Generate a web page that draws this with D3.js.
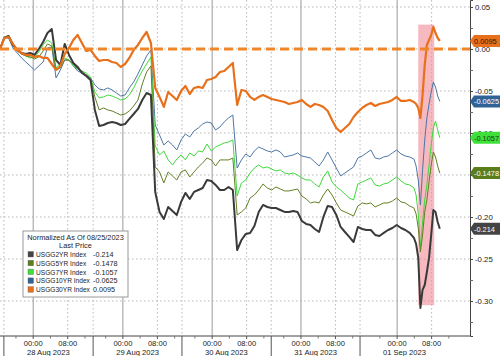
<!DOCTYPE html>
<html><head><meta charset="utf-8">
<script src="https://cdn.jsdelivr.net/npm/d3@7"></script>
<style>
html,body{margin:0;padding:0;background:#fff;}
svg{display:block;font-family:"Liberation Sans",Arial,sans-serif;}
</style></head>
<body><svg id="c" width="500" height="356"></svg>
<script>
// ---- data ----
// session hours (x) shared by all series
const hours = d3.range(0, 96).concat([96, 96.5, 97, 97.5, 98, 98.5, 99, 99.5, 100, 100.5, 101, 101.5, 102]);

const usgg2 = [0,0.0131,0.0155,0.0048,-0.0012,-0.0048,-0.0060,-0.0048,-0.0071,0,
0.0083,0.0190,0.0238,-0.0131,-0.0190,0.0060,-0.0071,-0.0167,-0.0214,-0.0286,
-0.0321,-0.0369,-0.0726,-0.0917,-0.0905,-0.0881,-0.0869,-0.0881,-0.0905,-0.0893,
-0.0833,-0.0774,-0.0714,-0.0607,-0.0524,-0.0548,-0.1702,-0.1940,-0.2024,-0.1881,
-0.1929,-0.1976,-0.1821,-0.1714,-0.1786,-0.1702,-0.1679,-0.1655,-0.1560,-0.1571,
-0.1619,-0.1679,-0.1679,-0.1643,-0.1679,-0.2393,-0.2274,-0.2202,-0.2190,-0.2107,
-0.1940,-0.1857,-0.1881,-0.1893,-0.1893,-0.1917,-0.1940,-0.1940,-0.1929,-0.1940,
-0.2048,-0.2083,-0.2095,-0.2143,-0.2179,-0.2000,-0.1869,-0.1881,-0.1976,-0.2119,
-0.2179,-0.2238,-0.2298,-0.2119,-0.2143,-0.2155,-0.2155,-0.2214,-0.2226,-0.2190,
-0.2155,-0.2131,-0.2095,-0.2131,-0.2155,-0.2190,
-0.2250,-0.2321,-0.2488,-0.3083,-0.2869,-0.2810,-0.2655,-0.2488,-0.2214,-0.1917,-0.1940,-0.2060,-0.2140];

const usgg5 = [0,0.0131,0.0143,0.0036,-0.0024,-0.0060,-0.0083,-0.0095,-0.0119,-0.0095,
-0.0024,0.0060,0.0036,-0.0250,-0.0226,-0.0131,-0.0131,-0.0179,-0.0238,-0.0262,
-0.0310,-0.0357,-0.0571,-0.0726,-0.0702,-0.0726,-0.0738,-0.0762,-0.0786,-0.0774,
-0.0738,-0.0679,-0.0607,-0.0417,-0.0274,-0.0202,-0.1405,-0.1464,-0.1595,-0.1464,
-0.1512,-0.1560,-0.1464,-0.1440,-0.1524,-0.1464,-0.1405,-0.1357,-0.1298,-0.1321,
-0.1393,-0.1321,-0.1321,-0.1321,-0.1298,-0.1976,-0.1940,-0.1893,-0.1774,-0.1738,
-0.1679,-0.1607,-0.1655,-0.1679,-0.1643,-0.1667,-0.1690,-0.1690,-0.1679,-0.1667,
-0.1750,-0.1786,-0.1833,-0.1821,-0.1833,-0.1738,-0.1667,-0.1738,-0.1833,-0.1917,
-0.1940,-0.1964,-0.1988,-0.1869,-0.1833,-0.1845,-0.1833,-0.1881,-0.1857,-0.1833,
-0.1833,-0.1810,-0.1774,-0.1821,-0.1833,-0.1869,
-0.1893,-0.1964,-0.2131,-0.2417,-0.2214,-0.1940,-0.1798,-0.1583,-0.1381,-0.1226,-0.1286,-0.1393,-0.1478];

const usgg7 = [0,0.0143,0.0155,0.0048,-0.0012,-0.0060,-0.0083,-0.0107,-0.0095,-0.0036,
0.0048,0.0107,0.0071,-0.0226,-0.0167,-0.0107,-0.0131,-0.0202,-0.0238,-0.0262,
-0.0286,-0.0333,-0.0512,-0.0583,-0.0571,-0.0548,-0.0560,-0.0583,-0.0607,-0.0595,
-0.0548,-0.0464,-0.0357,-0.0262,-0.0179,-0.0095,-0.1155,-0.1262,-0.1214,-0.1321,
-0.1381,-0.1310,-0.1262,-0.1321,-0.1238,-0.1274,-0.1214,-0.1226,-0.1131,-0.1214,
-0.1167,-0.1143,-0.1119,-0.1107,-0.1083,-0.1750,-0.1595,-0.1560,-0.1476,-0.1417,
-0.1381,-0.1417,-0.1405,-0.1429,-0.1452,-0.1440,-0.1476,-0.1488,-0.1476,-0.1500,
-0.1536,-0.1560,-0.1560,-0.1607,-0.1643,-0.1524,-0.1452,-0.1583,-0.1643,-0.1679,
-0.1726,-0.1774,-0.1798,-0.1607,-0.1583,-0.1560,-0.1536,-0.1619,-0.1631,-0.1607,
-0.1595,-0.1560,-0.1524,-0.1571,-0.1607,-0.1619,
-0.1655,-0.1738,-0.1964,-0.2357,-0.2060,-0.1798,-0.1619,-0.1381,-0.1143,-0.0940,-0.0857,-0.0964,-0.1057];

const usgg10 = [0,0.0131,0.0131,0.0012,-0.0048,-0.0107,-0.0155,-0.0202,-0.0250,-0.0202,
-0.0155,0.0012,0.0024,-0.0345,-0.0250,-0.0131,-0.0131,-0.0202,-0.0262,-0.0286,
-0.0310,-0.0345,-0.0429,-0.0476,-0.0488,-0.0464,-0.0488,-0.0524,-0.0560,-0.0548,
-0.0464,-0.0393,-0.0298,-0.0190,-0.0083,-0.0012,-0.0905,-0.1024,-0.1143,-0.1095,
-0.1143,-0.1202,-0.1083,-0.1012,-0.1048,-0.0976,-0.0940,-0.0893,-0.0869,-0.0881,
-0.0964,-0.0929,-0.0869,-0.0821,-0.0786,-0.1417,-0.1321,-0.1250,-0.1286,-0.1214,
-0.1167,-0.1190,-0.1214,-0.1226,-0.1202,-0.1226,-0.1286,-0.1274,-0.1262,-0.1238,
-0.1274,-0.1286,-0.1298,-0.1345,-0.1393,-0.1321,-0.1226,-0.1321,-0.1417,-0.1512,
-0.1476,-0.1440,-0.1405,-0.1298,-0.1274,-0.1238,-0.1202,-0.1298,-0.1310,-0.1286,
-0.1274,-0.1238,-0.1202,-0.1250,-0.1274,-0.1286,
-0.1310,-0.1393,-0.1560,-0.1857,-0.1440,-0.1083,-0.0821,-0.0655,-0.0512,-0.0393,-0.0452,-0.0560,-0.0625];

const usgg30 = [0,0.0131,0.0143,0.0060,-0.0012,-0.0048,-0.0071,-0.0071,-0.0095,-0.0083,
-0.0107,-0.0107,-0.0179,-0.0250,-0.0202,-0.0060,0.0012,0.0107,0.0167,0.0071,
-0.0024,-0.0012,-0.0083,-0.0143,-0.0131,-0.0131,-0.0155,-0.0167,-0.0214,-0.0179,
-0.0107,-0.0012,0.0048,0.0131,0.0202,0.0071,-0.0464,-0.0571,-0.0690,-0.0512,
-0.0560,-0.0607,-0.0500,-0.0440,-0.0536,-0.0464,-0.0452,-0.0464,-0.0369,-0.0357,
-0.0333,-0.0274,-0.0262,-0.0214,-0.0167,-0.0667,-0.0488,-0.0500,-0.0571,-0.0607,
-0.0571,-0.0548,-0.0571,-0.0595,-0.0607,-0.0619,-0.0631,-0.0655,-0.0643,-0.0631,
-0.0607,-0.0655,-0.0690,-0.0655,-0.0667,-0.0690,-0.0738,-0.0845,-0.0940,-0.0988,
-0.0940,-0.0893,-0.0810,-0.0750,-0.0702,-0.0667,-0.0643,-0.0679,-0.0655,-0.0643,
-0.0631,-0.0607,-0.0571,-0.0619,-0.0619,-0.0607,
-0.0631,-0.0655,-0.0702,-0.0821,-0.0548,-0.0190,0.0048,0.0107,0.0167,0.0262,0.0190,0.0131,0.0095];

const seriesNames = ["USGG2YR Index","USGG5YR Index","USGG7YR Index","USGG10YR Index","USGG30YR Index"];
const lastLabels = ["-0.214","-0.1478","-0.1057","-0.0625","0.0095"];
const seriesColors = ["#3a3a3a","#627f24","#3fd93a","#4d76a6","#e8701a"];
const labelFills = ["#444444","#5b7d1c","#3fe03a","#2f6396","#e8701a"];
const labelText = ["#ffffff","#ffffff","#1a3a1a","#ffffff","#2a1a0a"];

const yTicks = [0.05, 0, -0.05, -0.10, -0.15, -0.20, -0.25, -0.30];
const dayStarts = [0.9, 21.6, 42.2, 62.9, 83.5];
const dayNames = ["28 Aug 2023","29 Aug 2023","30 Aug 2023","31 Aug 2023","01 Sep 2023"];
const midnights = [7.7, 28.5, 49.2, 69.8, 92.1];
const hourLabels = ["00:00","08:00"];
const highlight = [97.0, 100.7, 0.029, -0.305]; // x0,x1 (hours), y top, y bottom (value)

// ---- drawing ----
const W = 500, H = 356, plotR = 470, plotB = 336;
const svg = d3.select("#c");
const x = d3.scaleLinear().domain([0, 109]).range([0, plotR]);
const y = d3.scaleLinear().domain([-0.3417, 0.0583]).range([plotB, 0]);

// grid
const grid = svg.append("g");
yTicks.forEach(t => {
  grid.append("line").attr("x1",0).attr("x2",plotR).attr("y1",y(t)).attr("y2",y(t))
    .attr("stroke","#b8b8b8").attr("stroke-width",1).attr("stroke-dasharray","1.5,2.5");
});
dayStarts.forEach(t => {
  grid.append("line").attr("x1",x(t)).attr("x2",x(t)).attr("y1",0).attr("y2",plotB)
    .attr("stroke","#b8b8b8").attr("stroke-dasharray","1.5,2.5");
});
midnights.forEach(t => {
  grid.append("line").attr("x1",x(t)).attr("x2",x(t)).attr("y1",0).attr("y2",plotB)
    .attr("stroke","#9a9a9a").attr("stroke-width",1);
  grid.append("line").attr("x1",x(t+8)).attr("x2",x(t+8)).attr("y1",0).attr("y2",plotB)
    .attr("stroke","#b8b8b8").attr("stroke-dasharray","1.5,2.5");
});

// highlight band
svg.append("rect")
  .attr("x", x(highlight[0])).attr("width", x(highlight[1]) - x(highlight[0]))
  .attr("y", y(highlight[2])).attr("height", y(highlight[3]) - y(highlight[2]))
  .attr("fill", "#f08a96").attr("fill-opacity", 0.6);

// lines
const all = [usgg2, usgg5, usgg7, usgg10, usgg30];
const widths = [2, 1, 1, 1, 2.2];
const order = [3, 2, 1, 0, 4];
const line = d3.line().x((d,i) => x(hours[i])).y(d => y(d));
order.forEach(k => {
  svg.append("path").datum(all[k]).attr("d", line)
    .attr("fill","none").attr("stroke", seriesColors[k])
    .attr("stroke-width", widths[k]).attr("stroke-linejoin","round");
});

// zero dashed line
svg.append("line").attr("x1",0).attr("x2",plotR).attr("y1",y(0)).attr("y2",y(0))
  .attr("stroke","#f0862a").attr("stroke-width",3).attr("stroke-dasharray","9,5");

// right axis
const yAxis = d3.axisRight(y).tickValues(yTicks).tickSize(3).tickPadding(2)
  .tickFormat(d => d.toFixed(2));
const ya = svg.append("g").attr("transform", `translate(${plotR},0)`).call(yAxis);
ya.select(".domain").attr("stroke","#444");
ya.selectAll(".tick line").attr("stroke","#444");
ya.selectAll("text").attr("font-size", 7.8).attr("fill","#222");
const yMinor = d3.axisRight(y).tickValues(d3.range(-0.325, 0.06, 0.05)).tickSize(3).tickFormat("");
const ym = svg.append("g").attr("transform", `translate(${plotR},0)`).call(yMinor);
ym.select(".domain").remove();
ym.selectAll(".tick line").attr("stroke","#666");

// bottom axis
svg.append("line").attr("x1",0).attr("x2",plotR).attr("y1",plotB).attr("y2",plotB).attr("stroke","#444");
const bx = svg.append("g");
dayStarts.forEach((t,i) => {
  bx.append("line").attr("x1",x(t)).attr("x2",x(t)).attr("y1",plotB).attr("y2",H).attr("stroke","#555");
  bx.append("text").attr("x", x(t + 10.3)).attr("y", 355).attr("text-anchor","middle")
    .attr("font-size", 7.6).attr("fill","#222").text(dayNames[i]);
});
midnights.forEach(t => {
  [t, t+8].forEach((h,j) => {
    bx.append("line").attr("x1",x(h)).attr("x2",x(h)).attr("y1",plotB).attr("y2",plotB+3).attr("stroke","#555");
    bx.append("text").attr("x", x(h)).attr("y", 346).attr("text-anchor","middle")
      .attr("font-size", 7.6).attr("fill","#222").text(hourLabels[j]);
  });
  [t-4, t+4, t+12].forEach(h => {
    bx.append("line").attr("x1",x(h)).attr("x2",x(h)).attr("y1",plotB).attr("y2",plotB+2.5).attr("stroke","#777");
  });
});

// last value tags
all.forEach((s,k) => {
  const v = s[s.length-1], yy = y(v);
  const g = svg.append("g");
  g.append("path").attr("d", `M${plotR},${yy} L${plotR+4},${yy-6} L${W},${yy-6} L${W},${yy+6} L${plotR+4},${yy+6} Z`)
    .attr("fill", labelFills[k]);
  g.append("text").attr("x", plotR+4).attr("y", yy+2.8).attr("font-size", 7.4)
    .attr("fill", labelText[k]).text(lastLabels[k]);
});

// legend
const lg = svg.append("g").attr("transform","translate(23,231)");
lg.append("rect").attr("width",105).attr("height",66).attr("fill","#fff").attr("stroke","#999");
lg.append("text").attr("x",52.5).attr("y",8.5).attr("text-anchor","middle").attr("font-size",7.4).attr("fill","#222").text("Normalized As Of 08/25/2023");
lg.append("text").attr("x",52.5).attr("y",17).attr("text-anchor","middle").attr("font-size",7.4).attr("fill","#222").text("Last Price");
seriesNames.forEach((n,k) => {
  const yy = 20.5 + k*8.8;
  lg.append("rect").attr("x",5).attr("y",yy).attr("width",5.5).attr("height",5.5).attr("fill",labelFills[k]).attr("stroke","#666").attr("stroke-width",0.4);
  lg.append("text").attr("x",13).attr("y",yy+5.5).attr("font-size",6.6).attr("fill","#222").text(n);
  lg.append("text").attr("x",70).attr("y",yy+5.5).attr("font-size",7.2).attr("fill","#222").text(lastLabels[k]);
});
</script></body></html>
